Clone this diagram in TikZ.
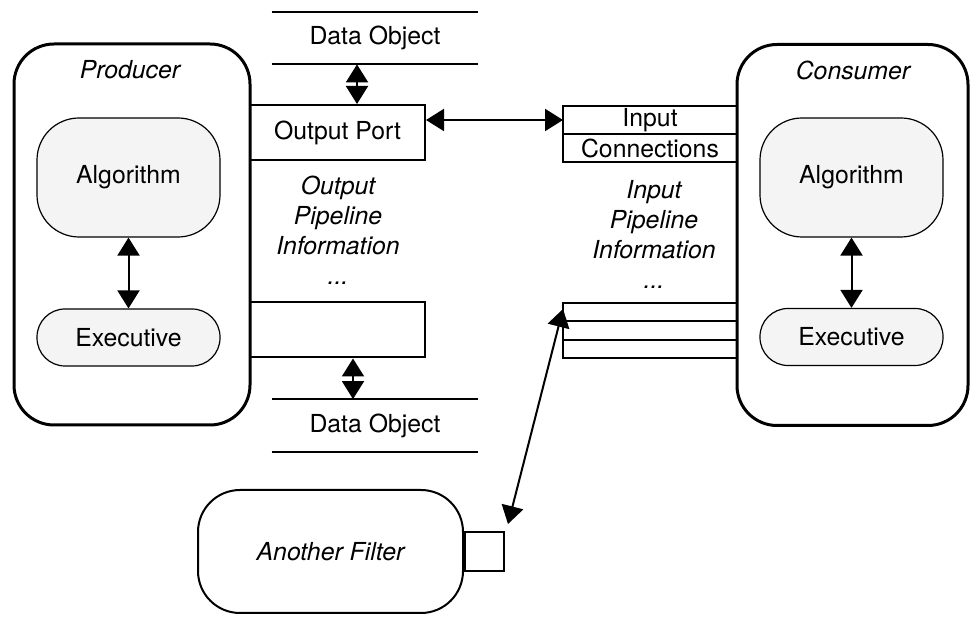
\documentclass[tikz,border=0pt]{standalone}
\usepackage{fontspec}
\setmainfont{TeX Gyre Heros}
\usepackage{xcolor}
\usetikzlibrary{arrows.meta,positioning,calc}
\definecolor{boxgray}{HTML}{F4F4F4}

\begin{document}
\begin{tikzpicture}[x=0.5pt, y=-0.5pt,
  every node/.style={font=\fontsize{12.4}{15}\selectfont},
  filterbox/.style={draw, line width=1.5pt, rounded corners=20pt,
                    minimum width=118pt, minimum height=190.5pt},
  inner/.style={draw, line width=0.6pt, fill=boxgray, rounded corners=21pt,
                minimum width=91.5pt, minimum height=59.5pt},
  execbox/.style={inner, rounded corners=14pt, minimum height=28.5pt},
  port/.style={draw, line width=1pt, minimum width=87.5pt, minimum height=27.5pt},
  slot/.style={draw, line width=1pt, inner sep=0pt, outer sep=0pt,
               minimum width=87pt, minimum height=14pt},
  thinslot/.style={slot, minimum height=9.2pt},
  dobj/.style={inner sep=0pt, minimum width=103pt, minimum height=26pt},
  info/.style={align=center, inner sep=0pt, anchor=north,
               font=\fontsize{12.4}{15}\selectfont\itshape},
  lbl/.style={font=\fontsize{12.4}{15}\selectfont\itshape},
  arr/.style={line width=1pt, {Triangle[length=9pt,width=11pt]}-{Triangle[length=9pt,width=11pt]}}
]
\useasboundingbox (0,0) rectangle (970,619);

% producer side
\node[port] (outport) at (337.5,132.5) {Output Port};
\node[port] (outbox) at (337.5,330) {};
\node[filterbox] (prod) at (132,234.5) {};
\node[lbl] (prodlbl) at (130,70) {Producer};
\node[inner] (alg1) at (128.5,177.5) {Algorithm};
\node[execbox] (exe1) at (128.5,337.5) {Executive};
\draw[arr] (alg1.south) -- (exe1.north);

\node[info] (outinfo) at (338,176) {Output\\Pipeline\\Information\\...};

\node[dobj] (dtop) at (375,38) {Data Object};
\node[dobj] (dbot) at (375,425.5) {Data Object};
\draw[line width=1pt] (dtop.north west) -- (dtop.north east)
                      (dtop.south west) -- (dtop.south east)
                      (dbot.north west) -- (dbot.north east)
                      (dbot.south west) -- (dbot.south east);
\draw[arr] ([xshift=-9pt]dtop.south) -- ([xshift=-9pt]dtop.south |- outport.north);
\draw[arr] ([xshift=-11pt]dbot.north |- outbox.south) -- ([xshift=-11pt]dbot.north);

% consumer side
\node[slot] (inp) at (650,120) {Input};
\node[slot, below=0pt of inp] (conn) {Connections};
\node[thinslot] (st1) at (650,312.2) {};
\node[thinslot, below=0pt of st1] (st2) {};
\node[thinslot, below=0pt of st2] (st3) {};
\node[filterbox, minimum width=115.5pt] (cons) at (852.5,235) {};
\node[lbl] (conslbl) at (853,70) {Consumer};
\node[inner] (alg2) at (851.5,177.5) {Algorithm};
\node[execbox] (exe2) at (851.5,337) {Executive};
\draw[arr] (alg2.south) -- (exe2.north);

\node[info] (ininfo) at (654,180) {Input\\Pipeline\\Information\\...};

\draw[arr] (outport.east |- inp.west) -- (inp.west);

% another filter
\node[draw, line width=1pt, rounded corners=21pt, minimum width=132.5pt,
      minimum height=61.5pt, lbl] (flt) at (330.5,551.5) {Another Filter};
\node[draw, line width=1pt, minimum size=19.5pt, inner sep=0pt,
      right=0pt of flt] (fport) {};
\draw[arr] ([yshift=-3pt]st1.north west) -- ([shift={(1.5pt,3.5pt)}]fport.north east);
\end{tikzpicture}
\end{document}
